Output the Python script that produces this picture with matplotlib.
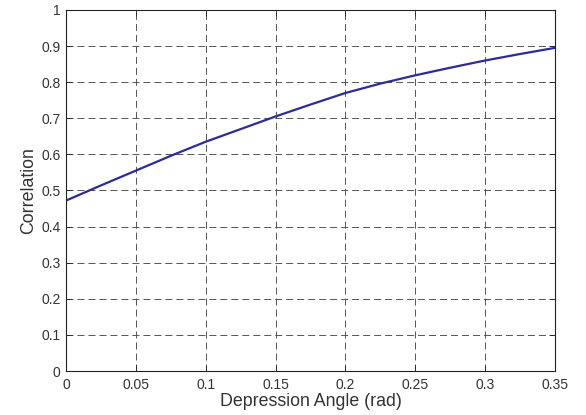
import matplotlib
matplotlib.use("Agg")
import matplotlib.pyplot as plt

plt.rcParams['font.family'] = ['Liberation Sans', 'DejaVu Sans']

# depression angle (rad) vs correlation
angle = [0, 0.025, 0.05, 0.075, 0.1, 0.125, 0.15, 0.175, 0.2,
         0.225, 0.25, 0.275, 0.3, 0.325, 0.35]
corr = [0.472, 0.514, 0.555, 0.596, 0.635, 0.670, 0.705, 0.738, 0.770,
        0.796, 0.819, 0.840, 0.860, 0.878, 0.895]

xticks = [0, 0.05, 0.1, 0.15, 0.2, 0.25, 0.3, 0.35]
xticklabels = ['0', '0.05', '0.1', '0.15', '0.2', '0.25', '0.3', '0.35']
yticks = [0, 0.1, 0.2, 0.3, 0.4, 0.5, 0.6, 0.7, 0.8, 0.9, 1]
yticklabels = ['0', '0.1', '0.2', '0.3', '0.4', '0.5', '0.6', '0.7', '0.8', '0.9', '1']

fig = plt.figure(figsize=(5.86, 4.15), dpi=100)
ax = fig.add_axes([0.1126, 0.106, 0.8344, 0.870])

ax.plot(angle, corr, color='#2b2b9b', linewidth=1.6)

ax.set_xlim(0, 0.35)
ax.set_ylim(0, 1)
ax.set_xticks(xticks)
ax.set_xticklabels(xticklabels)
ax.set_yticks(yticks)
ax.set_yticklabels(yticklabels)
ax.tick_params(direction='in', top=True, right=True, labelsize=10,
               length=4, width=0.6, colors='#222222', labelcolor='#333333')
ax.tick_params(axis='x', pad=5)
ax.tick_params(axis='y', pad=4)
ax.grid(True, linestyle=(0, (7.2, 4.1)), color='#555555', linewidth=0.7)
for s in ax.spines.values():
    s.set_color('#222222')
    s.set_linewidth(0.8)

ax.set_xlabel('Depression Angle (rad)', fontsize=12.8, color='#333333', labelpad=1)
ax.set_ylabel('Correlation', fontsize=12.8, color='#333333', labelpad=3)

fig.savefig('out.png', dpi=100)
